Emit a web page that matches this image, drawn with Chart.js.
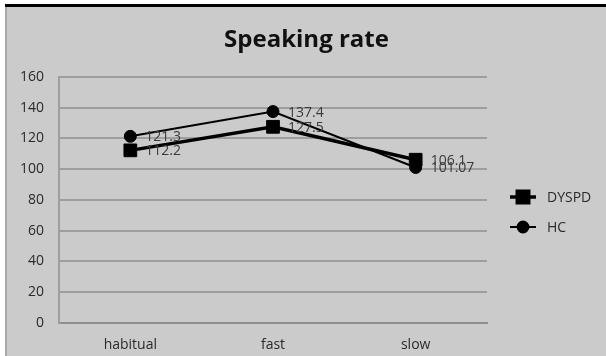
<!DOCTYPE html>
<html>
<head>
<meta charset="utf-8">
<script src="https://cdn.jsdelivr.net/npm/chart.js@4"></script>
<style>
  html, body { margin: 0; padding: 0; background: #ffffff; width: 606px; height: 356px; overflow: hidden; }
  #topline { position: absolute; left: 5px; top: 4px; width: 601px; height: 3px; background: #000; }
  #edge { position: absolute; left: 5px; top: 7px; width: 2px; height: 349px; background: #a9a9a9; }
  #panel { position: absolute; left: 7px; top: 7px; width: 599px; height: 349px; background: #cbcbcb; }
</style>
</head>
<body>
<div id="topline"></div>
<div id="edge"></div>
<div id="panel"><canvas id="c" width="599" height="349"></canvas></div>
<script>
// Speaking rate by condition
const conditions = ['habitual', 'fast', 'slow'];
const dyspdRate = [112.2, 127.5, 106.1];
const hcRate = [121.3, 137.4, 101.07];
const yTicks = [0, 20, 40, 60, 80, 100, 120, 140, 160];

const FONT = '"Open Sans", Lato, sans-serif';

// value labels to the right of every point
const valueLabels = {
  id: 'valueLabels',
  afterDatasetsDraw(chart) {
    const ctx = chart.ctx;
    ctx.save();
    ctx.font = '14px ' + FONT;
    ctx.fillStyle = '#3a3a3a';
    ctx.textAlign = 'left';
    ctx.textBaseline = 'middle';
    chart.data.datasets.forEach((ds, i) => {
      chart.getDatasetMeta(i).data.forEach((pt, j) => {
        ctx.fillText(String(ds.data[j]), pt.x + 15, pt.y + 1);
      });
    });
    ctx.restore();
  }
};

// legend on the right: short line with marker, then the series name
const sideLegend = {
  id: 'sideLegend',
  afterDraw(chart) {
    const ctx = chart.ctx;
    const x0 = 503, x1 = 529, yStart = 190, gap = 30;
    ctx.save();
    chart.data.datasets.forEach((ds, i) => {
      const y = yStart + i * gap;
      ctx.strokeStyle = ds.borderColor;
      ctx.lineWidth = ds.borderWidth;
      ctx.beginPath();
      ctx.moveTo(x0, y);
      ctx.lineTo(x1, y);
      ctx.stroke();
      ctx.fillStyle = ds.pointBackgroundColor;
      ctx.strokeStyle = ds.pointBorderColor;
      Chart.helpers.drawPoint(ctx, {
        pointStyle: ds.pointStyle,
        radius: ds.pointRadius * 0.9,
        rotation: 0,
        borderWidth: 1
      }, (x0 + x1) / 2, y);
      ctx.fillStyle = '#2a2a2a';
      ctx.font = '14px ' + FONT;
      ctx.textAlign = 'left';
      ctx.textBaseline = 'middle';
      ctx.fillText(ds.label, 540, y + 1);
    });
    ctx.restore();
  }
};

new Chart(document.getElementById('c'), {
  type: 'line',
  data: {
    labels: conditions,
    datasets: [
      {
        label: 'DYSPD',
        data: dyspdRate,
        borderColor: '#000000',
        borderWidth: 3.5,
        pointStyle: 'rect',
        pointRadius: 9,
        pointBackgroundColor: '#000000',
        pointBorderColor: '#000000',
        pointBorderWidth: 1,
        tension: 0
      },
      {
        label: 'HC',
        data: hcRate,
        borderColor: '#000000',
        borderWidth: 2,
        pointStyle: 'circle',
        pointRadius: 6,
        pointBackgroundColor: '#000000',
        pointBorderColor: '#000000',
        pointBorderWidth: 1,
        tension: 0
      }
    ]
  },
  options: {
    responsive: false,
    animation: false,
    events: [],
    layout: { padding: 0 },
    plugins: {
      legend: { display: false },
      tooltip: { enabled: false },
      title: {
        display: true,
        text: 'Speaking rate',
        color: '#111111',
        font: { family: FONT, size: 24, weight: 'bold' },
        padding: { top: 19, bottom: 22 }
      }
    },
    scales: {
      x: {
        offset: true,
        grid: { display: false, drawTicks: false },
        border: { display: true, color: '#8e8e8e', width: 2 },
        ticks: { color: '#2a2a2a', font: { family: FONT, size: 14 }, padding: 14, maxRotation: 0 },
        afterFit(scale) { scale.height = 33; }
      },
      y: {
        min: 0,
        max: 160,
        afterBuildTicks(scale) { scale.ticks = yTicks.map(v => ({ value: v })); },
        grid: { color: '#9e9e9e', lineWidth: 2, drawTicks: false },
        border: { display: true, color: '#9e9e9e', width: 2 },
        ticks: { color: '#2a2a2a', font: { family: FONT, size: 14 }, padding: 15 },
        afterFit(scale) { scale.width = 52; }
      },
      // empty strip on the right that holds the legend
      legendStrip: {
        position: 'right',
        grid: { display: false, drawTicks: false },
        border: { display: false },
        ticks: { display: false },
        afterFit(scale) { scale.width = 119; }
      }
    }
  },
  plugins: [valueLabels, sideLegend]
});
</script>
</body>
</html>
